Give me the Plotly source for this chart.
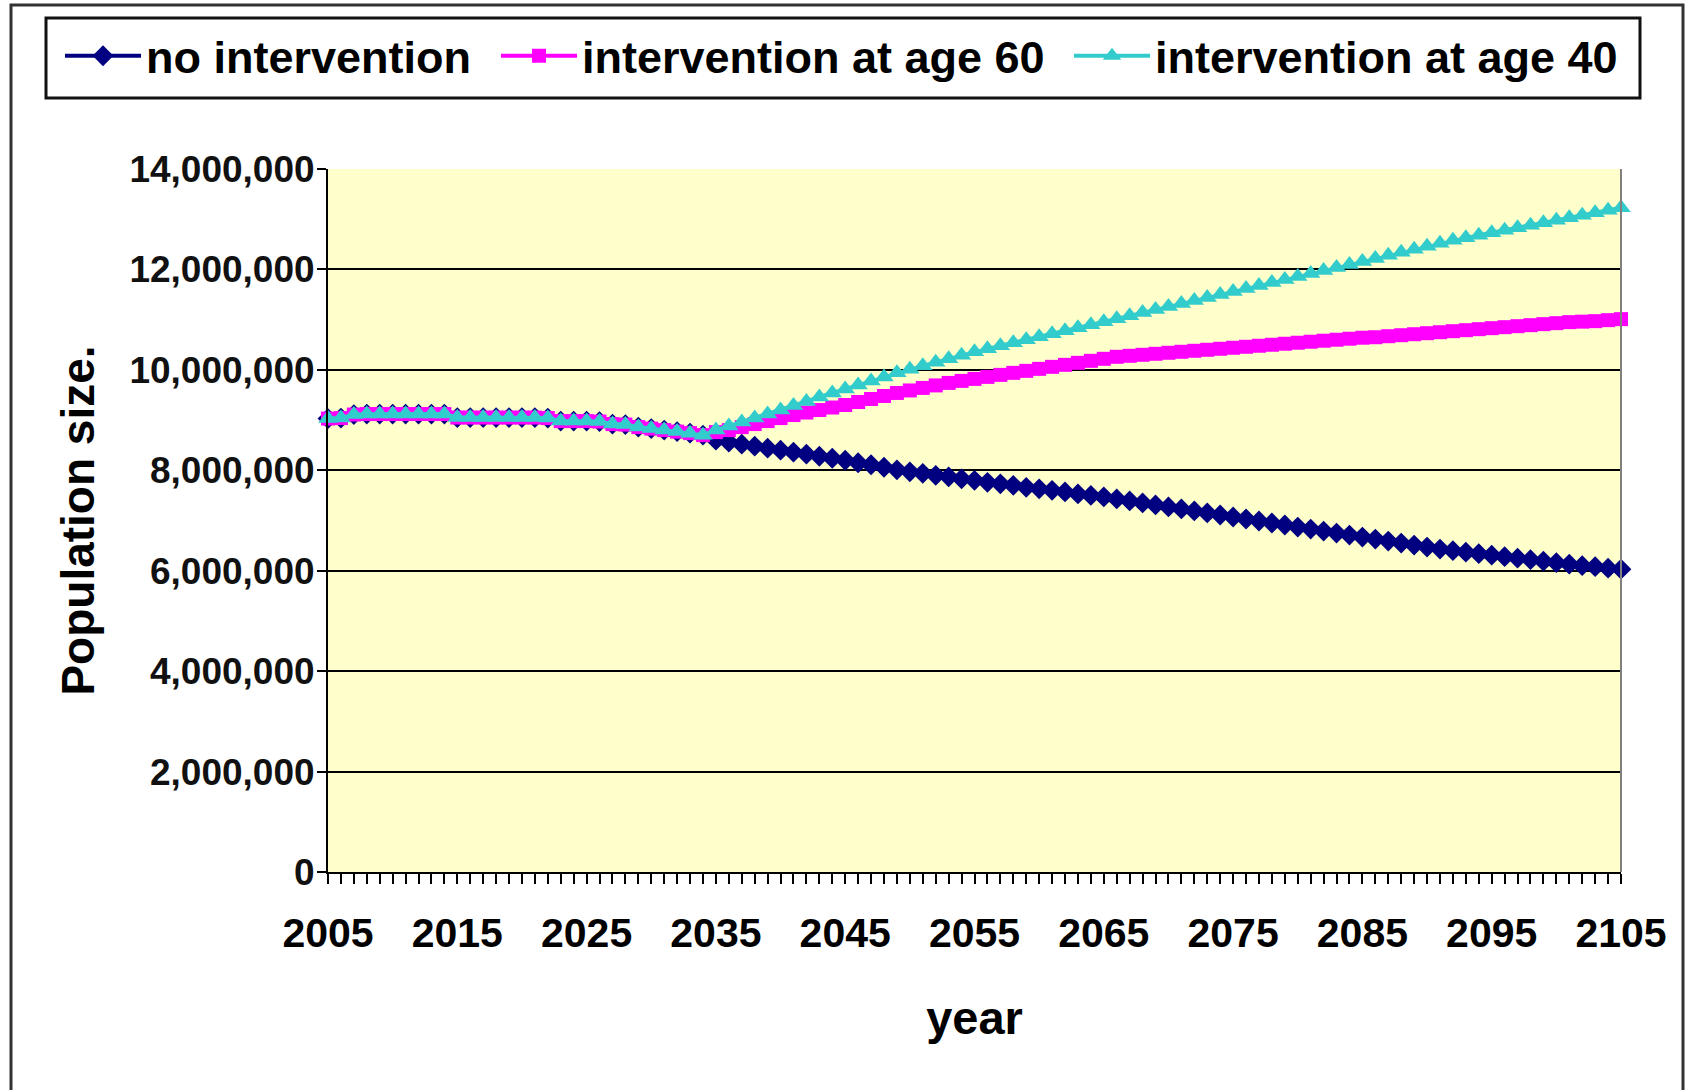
import plotly.graph_objects as go

# Projection years (one point per year)
years = list(range(2005, 2106))

# Population in thousands, 2005-2034 (identical for all scenarios)
common_2005_2034 = [
    9030, 9040, 9110, 9120, 9120, 9120, 9120, 9120, 9120, 9120,
    9050, 9050, 9050, 9050, 9050, 9050, 9050, 9040,
    8980, 8980, 8980, 8970,
    8920, 8910,
    8860, 8830, 8800, 8770, 8740, 8700,
]

# Population in thousands, 2035-2105, per scenario
no_intervention_2035_2105 = [
    8600, 8560, 8520, 8480, 8440, 8400, 8360, 8320, 8280, 8240,
    8200, 8150, 8110, 8060, 8010, 7970, 7940, 7900, 7870, 7830,
    7800, 7760, 7730, 7700, 7660, 7630, 7600, 7570, 7530, 7500,
    7470, 7430, 7390, 7350, 7310, 7270, 7230, 7190, 7150, 7110,
    7070, 7030, 6990, 6950, 6910, 6870, 6830, 6790, 6750, 6710,
    6670, 6630, 6590, 6550, 6510, 6470, 6430, 6400, 6370, 6340,
    6310, 6280, 6250, 6220, 6190, 6160, 6130, 6100, 6080, 6050,
    6030,
]
age60_2035_2105 = [
    8760, 8800, 8860, 8920, 8980, 9040, 9100, 9150, 9200, 9250,
    9300, 9360, 9420, 9480, 9540, 9590, 9640, 9690, 9740, 9780,
    9820, 9860, 9900, 9940, 9980, 10020, 10060, 10100, 10140, 10180,
    10220, 10260, 10280, 10300, 10320, 10340, 10360, 10380, 10400, 10420,
    10440, 10460, 10480, 10500, 10520, 10540, 10560, 10580, 10600, 10620,
    10640, 10650, 10670, 10690, 10710, 10730, 10750, 10770, 10790, 10810,
    10830, 10850, 10870, 10890, 10910, 10930, 10950, 10960, 10970, 10990,
    11010,
]
age40_2035_2105 = [
    8800, 8880, 8960, 9040, 9120, 9200, 9290, 9370, 9460, 9540,
    9620, 9700, 9780, 9860, 9940, 10010, 10080, 10150, 10220, 10290,
    10360, 10420, 10480, 10540, 10600, 10660, 10720, 10780, 10840, 10900,
    10960, 11020, 11080, 11140, 11200, 11260, 11320, 11380, 11440, 11500,
    11560, 11620, 11680, 11740, 11800, 11860, 11920, 11980, 12040, 12100,
    12160, 12220, 12280, 12340, 12400, 12460, 12520, 12580, 12630, 12680,
    12730, 12780, 12830, 12880, 12930, 12980, 13030, 13080, 13130, 13180,
    13230,
]

series_names = ["no intervention", "intervention at age 60", "intervention at age 40"]
x_tick_years = [2005, 2015, 2025, 2035, 2045, 2055, 2065, 2075, 2085, 2095, 2105]
y_tick_values = [0, 2000000, 4000000, 6000000, 8000000, 10000000, 12000000, 14000000]

UNIT = 1000  # stored values are in thousands


def to_people(thousands):
    return [v * UNIT for v in thousands]


series_values = [
    to_people(common_2005_2034 + no_intervention_2035_2105),
    to_people(common_2005_2034 + age60_2035_2105),
    to_people(common_2005_2034 + age40_2035_2105),
]
colors = ["#000080", "#FF00FF", "#33CCCC"]
symbols = ["diamond", "square", "triangle-up"]
marker_sizes = [16, 14, 17]
legend_ids = ["legend", "legend2", "legend3"]
legend_left_px = [60, 496, 1069]  # left edge of each legend entry, in pixels

FONT = "Liberation Sans, Arial, sans-serif"

fig = go.Figure()
for name, vals, col, sym, ms, lg in zip(series_names, series_values, colors,
                                        symbols, marker_sizes, legend_ids):
    fig.add_trace(go.Scatter(
        x=years, y=vals, name=name, mode="lines+markers",
        line=dict(color=col, width=4),
        marker=dict(symbol=sym, size=ms, color=col, line=dict(width=0)),
        cliponaxis=False, legend=lg,
    ))

# Plot-area geometry in pixels (used for the frame and legend box)
W, H = 1686, 1090
L, R, T, B = 328, 1621, 169, 872


def px_x(x):
    return (x - L) / (R - L)


def px_y(y):
    return (B - y) / (B - T)


shapes = [
    # outer chart frame
    dict(type="rect", xref="paper", yref="paper",
         x0=px_x(11), x1=px_x(1683), y0=px_y(1100), y1=px_y(5),
         line=dict(color="#333333", width=3), fillcolor="rgba(0,0,0,0)", layer="below"),
    # legend box
    dict(type="rect", xref="paper", yref="paper",
         x0=px_x(46), x1=px_x(1640), y0=px_y(98), y1=px_y(18),
         line=dict(color="#111111", width=3), fillcolor="white", layer="below"),
    # right border of plot area
    dict(type="line", xref="paper", yref="paper", x0=1, x1=1, y0=0, y1=1,
         line=dict(color="#808080", width=2)),
]


def legend_style(left_px):
    return dict(
        orientation="h",
        x=px_x(left_px), xanchor="left", y=px_y(56), yanchor="middle",
        font=dict(family=FONT, size=45, color="black", weight="bold"),
        bgcolor="rgba(0,0,0,0)", borderwidth=0, itemwidth=76,
    )


fig.update_layout(
    width=W, height=H,
    margin=dict(l=L, r=W - R, t=T, b=H - B, autoexpand=False),
    paper_bgcolor="white",
    plot_bgcolor="#FFFFCC",
    shapes=shapes,
    showlegend=True,
    legend=legend_style(legend_left_px[0]),
    legend2=legend_style(legend_left_px[1]),
    legend3=legend_style(legend_left_px[2]),
    xaxis=dict(
        range=[2005, 2105],
        tickmode="array", tickvals=x_tick_years,
        ticktext=[str(v) for v in x_tick_years],
        ticks="outside", ticklen=10, tickwidth=1.5, tickcolor="black",
        minor=dict(tick0=2005, dtick=1, ticks="outside", ticklen=10,
                   tickwidth=1.5, tickcolor="black", showgrid=False),
        showgrid=False, zeroline=False,
        showline=True, linecolor="black", linewidth=2,
        tickfont=dict(family=FONT, size=41, color="black", weight="bold"),
        ticklabelstandoff=14,
        title=dict(text="year", standoff=46,
                   font=dict(family=FONT, size=47, color="black", weight="bold")),
    ),
    yaxis=dict(
        range=[0, 14000000],
        tickmode="array", tickvals=y_tick_values,
        tickformat=",",
        ticks="outside", ticklen=9, tickwidth=1.5, tickcolor="black",
        ticklabelstandoff=-5,
        showgrid=True, gridcolor="black", gridwidth=1.8,
        zeroline=False,
        showline=True, linecolor="black", linewidth=2,
        tickfont=dict(family=FONT, size=37, color="#111111", weight="bold"),
        title=dict(text="Population size.", standoff=20,
                   font=dict(family=FONT, size=46, color="black", weight="bold")),
    ),
)

fig.write_html("out.html")
